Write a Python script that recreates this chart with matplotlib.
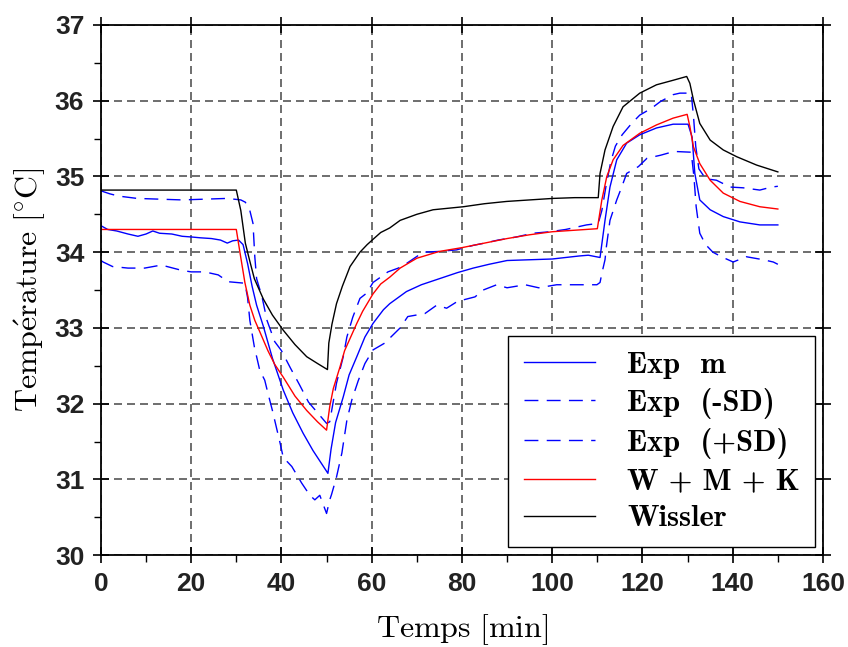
import matplotlib
matplotlib.use("Agg")
import matplotlib.pyplot as plt
from matplotlib.ticker import MultipleLocator

plt.rcParams["mathtext.fontset"] = "cm"

# Wissler model
t_wissler = [0, 30, 31, 32, 33, 34, 36, 38, 40.4, 43, 45.6, 48, 50.2, 50.5, 51.2, 52.2, 53.5, 55.2,
             57.4, 59, 60.3, 62, 64, 66.3, 70, 73.6, 80.3, 85, 89.9, 95, 100.2, 105, 110.2, 110.6,
             111.7, 113.5, 115.7, 119.4, 123.1, 126.8, 129.8, 130.5, 131.3, 132.7, 135, 137.9,
             140.9, 145.3, 150]
T_wissler = [34.82, 34.82, 34.55, 34.12, 33.88, 33.65, 33.38, 33.17, 32.97, 32.78, 32.62, 32.53,
             32.45, 32.8, 33.05, 33.32, 33.55, 33.81, 34.0, 34.1, 34.17, 34.26, 34.32, 34.42, 34.5,
             34.56, 34.6, 34.64, 34.67, 34.69, 34.71, 34.72, 34.72, 35.04, 35.35, 35.66, 35.92,
             36.1, 36.21, 36.27, 36.32, 36.23, 36.01, 35.7, 35.48, 35.35, 35.26, 35.15, 35.06]

# W + M + K model
t_wmk = [0, 30, 30.8, 31.9, 33, 34.1, 35.2, 37, 38.5, 40.4, 43, 45.6, 48, 50, 50.7, 51.5, 53, 54,
         55.5, 56.7, 58, 60.3, 62, 64, 66.3, 70, 75, 80, 85, 90, 95, 100, 105, 110, 111, 112.1,
         113.5, 115.7, 119.4, 123.1, 126.8, 129.9, 130.5, 131.3, 132.7, 135, 137.9, 141.6, 146, 150]
T_wmk = [34.3, 34.3, 34.0, 33.6, 33.3, 33.1, 32.95, 32.7, 32.52, 32.35, 32.1, 31.91, 31.76, 31.65,
         31.96, 32.2, 32.49, 32.7, 32.9, 33.06, 33.22, 33.45, 33.58, 33.67, 33.79, 33.92, 34.01,
         34.06, 34.12, 34.18, 34.23, 34.27, 34.29, 34.31, 34.69, 35.0, 35.22, 35.41, 35.57, 35.68,
         35.77, 35.82, 35.66, 35.39, 35.17, 34.95, 34.78, 34.67, 34.6, 34.57]

# experimental mean
t_exp = [0, 1.5, 3.5, 6, 8.2, 10, 11.5, 13, 15.7, 18, 20.2, 22, 24.5, 26.5, 28, 29.2, 30.5, 31.5,
         32.5, 33.5, 34.5, 36, 38, 40.4, 42.5, 44.8, 47, 50.3, 51, 52, 53.7, 55, 56.7, 58.5, 60.3,
         62.6, 64, 67.7, 71, 75, 79, 82.5, 86, 90, 95, 100, 103, 106, 108, 110.6, 111.7, 112.8,
         114.3, 116.5, 119.4, 123.1, 126.8, 130.1, 131, 131.6, 132.7, 135, 137.9, 141.6, 146, 150]
T_exp = [34.35, 34.3, 34.28, 34.24, 34.21, 34.24, 34.28, 34.25, 34.24, 34.21, 34.2, 34.19, 34.18,
         34.16, 34.12, 34.15, 34.16, 34.1, 33.85, 33.55, 33.3, 33.02, 32.6, 32.18, 31.88, 31.61,
         31.38, 31.08, 31.4, 31.75, 32.09, 32.38, 32.62, 32.88, 33.06, 33.24, 33.32, 33.48, 33.57,
         33.65, 33.73, 33.79, 33.84, 33.89, 33.9, 33.91, 33.93, 33.95, 33.96, 33.93, 34.42, 34.86,
         35.22, 35.44, 35.55, 35.64, 35.69, 35.69, 35.52, 35.04, 34.69, 34.56, 34.47, 34.4, 34.36,
         34.36]

# experimental mean + SD
t_plus = [0, 2, 4, 8, 13, 18, 23, 28, 31, 32, 33, 33.7, 34.1, 34.5, 35.7, 36.8, 38.5, 40, 42, 44,
          46, 48, 50, 50.7, 51.4, 52.2, 53.7, 54.5, 55.8, 57.4, 58.9, 60.3, 62.2, 63.6, 65.9, 67.7,
          71.4, 75, 78.8, 82.5, 85, 88, 92, 95.7, 99.5, 103, 107.6, 110.2, 111, 112, 113, 114,
          115.5, 117.6, 119.4, 122, 124, 126.8, 128.3, 130.8, 131.3, 131.8, 132.5, 134, 136.4,
          139.4, 142.3, 146, 148.6, 150]
T_plus = [34.81, 34.77, 34.74, 34.71, 34.7, 34.69, 34.7, 34.71, 34.69, 34.66, 34.55, 34.38, 33.94,
          33.65, 33.41, 33.1, 32.82, 32.7, 32.47, 32.25, 32.02, 31.88, 31.74, 31.76, 32.0, 32.27,
          32.62, 32.88, 33.14, 33.39, 33.46, 33.6, 33.68, 33.74, 33.79, 33.85, 34.0, 34.01, 34.03,
          34.09, 34.12, 34.16, 34.2, 34.25, 34.27, 34.3, 34.36, 34.38, 34.55, 34.9, 35.2, 35.4,
          35.55, 35.7, 35.81, 35.9, 35.99, 36.08, 36.1, 36.1, 35.8, 35.4, 35.1, 34.97, 34.95,
          34.86, 34.85, 34.82, 34.86, 34.87]

# experimental mean - SD
t_minus = [0, 0.5, 2.6, 6, 9.7, 13.4, 17.9, 20, 23, 26, 28.2, 31.9, 32.5, 33, 34, 35.2, 36.3, 37,
           38, 39.7, 40.4, 42.3, 44.5, 46.3, 47.4, 48.5, 50, 50.7, 51.1, 52.2, 53.4, 54.5, 55.6, 57,
           58.5, 60.3, 62.9, 66.3, 68, 71.8, 74.4, 76.6, 79, 82.9, 84.7, 87.7, 90, 94, 97, 101,
           109.9, 110.6, 111, 111.7, 112, 112.8, 114.3, 115.4, 116.5, 119.1, 121, 124, 127, 130.8,
           131.4, 131.9, 132.7, 134, 135.6, 137.5, 140.1, 143, 146.8, 149, 150]
T_minus = [33.89, 33.87, 33.81, 33.79, 33.79, 33.83, 33.76, 33.74, 33.74, 33.7, 33.61, 33.59, 33.4,
           33.1, 32.75, 32.44, 32.31, 32.14, 31.91, 31.48, 31.29, 31.17, 30.95, 30.79, 30.73, 30.79,
           30.55, 30.73, 30.8, 31.03, 31.35, 31.78, 32.05, 32.3, 32.53, 32.71, 32.8, 33.0, 33.15,
           33.19, 33.3, 33.26, 33.35, 33.41, 33.5, 33.57, 33.53, 33.57, 33.53, 33.57, 33.57, 33.6,
           33.72, 33.9, 34.07, 34.42, 34.69, 34.86, 35.04, 35.13, 35.24, 35.28, 35.33, 35.32, 35.0,
           34.6, 34.25, 34.1, 34.0, 33.94, 33.87, 33.94, 33.9, 33.87, 33.84]

labels = ["Exp  m", "Exp  (-SD)", "Exp  (+SD)", "W + M + K", "Wissler"]

fig = plt.figure(figsize=(8.48, 6.47), dpi=100)
ax = fig.add_axes([0.119, 0.142, 0.8515, 0.8194])

dash = (0, (10, 6))
ax.plot(t_exp, T_exp, color="#0000ff", lw=1.0, label=labels[0])
ax.plot(t_minus, T_minus, color="#0000ff", lw=1.0, linestyle=dash, label=labels[1])
ax.plot(t_plus, T_plus, color="#0000ff", lw=1.0, linestyle=dash, label=labels[2])
ax.plot(t_wmk, T_wmk, color="#ff0000", lw=1.0, label=labels[3])
ax.plot(t_wissler, T_wissler, color="black", lw=1.0, label=labels[4])

ax.set_xlim(0, 160)
ax.set_ylim(30, 37)
ax.xaxis.set_major_locator(MultipleLocator(20))
ax.xaxis.set_minor_locator(MultipleLocator(10))
ax.yaxis.set_major_locator(MultipleLocator(1))
ax.yaxis.set_minor_locator(MultipleLocator(0.5))
ax.grid(True, which="major", color="#555555", lw=1.2, linestyle=(0, (4.8, 3)))

ax.tick_params(which="major", direction="inout", length=12, width=1.2,
               top=True, right=True, labelsize=19, pad=6)
ax.tick_params(which="minor", direction="out", length=5, width=1.0)
for lab in ax.get_xticklabels() + ax.get_yticklabels():
    lab.set_fontfamily("Liberation Sans")
    lab.set_fontweight("bold")
    lab.set_color("#222222")
for sp in ax.spines.values():
    sp.set_linewidth(1.3)

ax.set_xlabel(r"$\mathrm{Temps\ [min]}$", fontsize=23, labelpad=12)
ax.set_ylabel(r"$\mathrm{Temp\acute{e}rature\ [^{\circ}C]}$", fontsize=23, labelpad=5)

leg = ax.legend(loc="lower right", prop={"family": "cmb10", "size": 22},
                handlelength=2.35, handletextpad=1.05, labelspacing=0.3,
                borderaxespad=0.25, borderpad=0.5, fancybox=False, framealpha=1)
leg.get_frame().set_edgecolor("black")
leg.get_frame().set_linewidth(1.0)

fig.savefig("out.png", dpi=100)
